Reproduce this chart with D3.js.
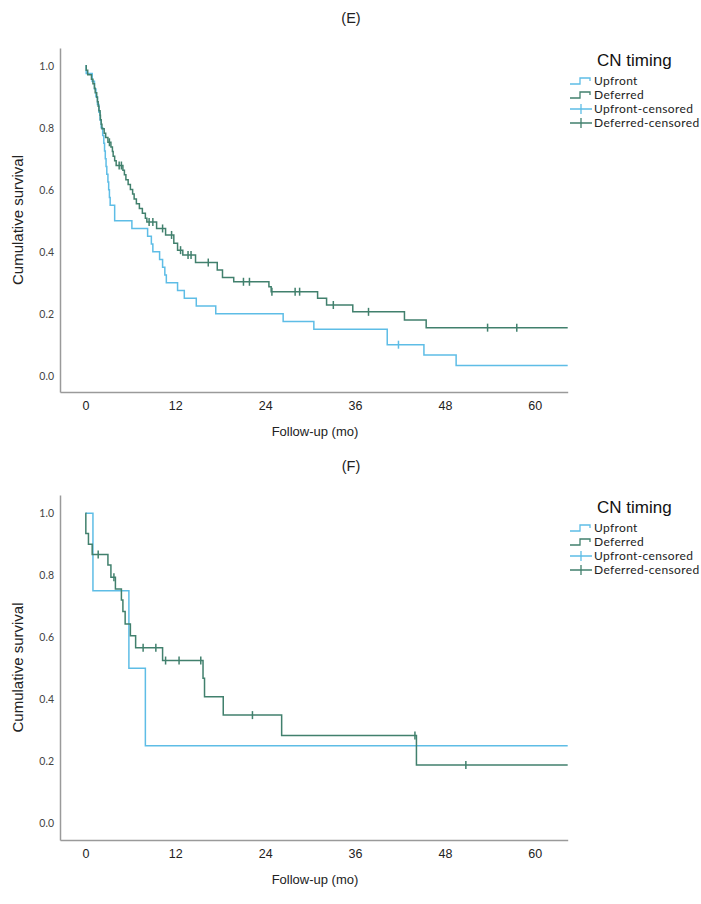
<!DOCTYPE html>
<html><head><meta charset="utf-8">
<script src="https://cdn.jsdelivr.net/npm/d3@7"></script>
<style>body{margin:0;background:#fff}svg{display:block}</style>
</head><body>
<script>
// ---------- data ----------
const xTicks = [0, 12, 24, 36, 48, 60];
const yTicks = [0.0, 0.2, 0.4, 0.6, 0.8, 1.0];
const followUpEnd = 64.4;
const seriesNames = ["Upfront", "Deferred"];
const legendLabels = ["Upfront", "Deferred", "Upfront-censored", "Deferred-censored"];

// Panel E
const eUpfrontSteps = [[0,1],[0.1,0.975],[0.9,0.95],[1.2,0.925],[1.4,0.9],[1.6,0.875],[1.8,0.85],[1.95,0.825],[2.1,0.8],[2.3,0.775],[2.45,0.75],[2.55,0.725],[2.65,0.7],[2.75,0.675],[2.85,0.65],[3.0,0.625],[3.1,0.6],[3.2,0.575],[3.3,0.55],[3.9,0.5],[6.2,0.475],[8.3,0.45],[8.8,0.425],[9.0,0.4],[9.9,0.375],[10.3,0.35],[10.6,0.325],[10.8,0.3],[12.3,0.275],[13.2,0.25],[14.8,0.225],[17.4,0.2],[26.4,0.175],[30.5,0.15],[40.3,0.1],[45.2,0.0667],[49.5,0.0333]];
const eUpfrontCensor = [[41.8,0.1]];
const eDeferredSteps = [[0,1],[0.1,0.985],[0.3,0.971],[0.8,0.956],[1.0,0.942],[1.2,0.927],[1.3,0.913],[1.5,0.898],[1.6,0.884],[1.7,0.869],[1.8,0.855],[1.95,0.84],[2.0,0.826],[2.1,0.811],[2.2,0.797],[2.5,0.782],[2.7,0.768],[3.0,0.753],[3.4,0.738],[3.6,0.723],[3.7,0.708],[3.9,0.693],[4.1,0.678],[5.0,0.663],[5.2,0.648],[5.4,0.632],[5.7,0.617],[6.0,0.601],[6.3,0.586],[6.5,0.57],[6.8,0.555],[7.2,0.539],[7.6,0.524],[8.0,0.508],[8.2,0.496],[9.5,0.475],[10.7,0.454],[11.8,0.427],[12.3,0.405],[13.0,0.389],[14.7,0.365],[17.6,0.341],[18.3,0.317],[19.8,0.303],[24.5,0.287],[24.8,0.271],[31.0,0.25],[32.2,0.228],[35.7,0.206],[42.6,0.18],[45.5,0.155]];
const eDeferredCensor = [[3.2,0.753],[4.5,0.678],[4.8,0.678],[8.5,0.496],[9.0,0.496],[10.3,0.475],[11.5,0.454],[12.7,0.405],[13.7,0.389],[14.1,0.389],[16.4,0.365],[21.1,0.303],[21.9,0.303],[24.9,0.271],[28.0,0.271],[28.6,0.271],[33.1,0.228],[37.8,0.206],[53.7,0.155],[57.6,0.155]];

// Panel F
const fUpfrontSteps = [[0,1],[1.0,0.75],[5.8,0.5],[8.0,0.25]];
const fUpfrontCensor = [];
const fDeferredSteps = [[0,1],[0.05,0.935],[0.4,0.9],[0.9,0.867],[3.0,0.833],[3.4,0.794],[4.0,0.756],[4.8,0.72],[5.0,0.683],[5.3,0.643],[6.0,0.605],[6.7,0.566],[10.3,0.525],[15.7,0.468],[15.9,0.408],[18.4,0.349],[26.2,0.283],[44.2,0.188]];
const fDeferredCensor = [[1.7,0.867],[3.8,0.794],[7.7,0.566],[9.4,0.566],[10.7,0.525],[12.5,0.525],[15.4,0.525],[22.3,0.349],[44.0,0.283],[50.8,0.188]];

const colors = ["#5ebde6", "#41806d"];

// ---------- drawing ----------
const W = 701, H = 904;
const svg = d3.select("body").append("svg").attr("width", W).attr("height", H);

const panels = [
  {title: "(E)", titleY: 23, yTop: 48, yBottom: 392, y0: 375.7, y1: 65.7, labelY: 436, legY: 66,
   series: [[eUpfrontSteps, eUpfrontCensor], [eDeferredSteps, eDeferredCensor]]},
  {title: "(F)", titleY: 471, yTop: 495, yBottom: 840, y0: 823.3, y1: 513.3, labelY: 884, legY: 513,
   series: [[fUpfrontSteps, fUpfrontCensor], [fDeferredSteps, fDeferredCensor]]}
];

const xLeft = 60, xRight = 567.7;
const xMin = -3.4;

panels.forEach(p => {
  const g = svg.append("g");
  const x = d3.scaleLinear().domain([xMin, followUpEnd]).range([xLeft, xRight]);
  const per = (p.y0 - p.y1);
  const y = d3.scaleLinear()
    .domain([(p.y0 - p.yBottom) / per, (p.y0 - p.yTop) / per])
    .range([p.yBottom, p.yTop]);

  // title
  g.append("text").attr("x", 351).attr("y", p.titleY).attr("text-anchor", "middle")
    .style("font-family", "Liberation Sans, Arial, sans-serif").style("font-size", "14.5px").style("fill", "#222")
    .text(p.title);

  // axes
  const yAx = g.append("g").attr("transform", `translate(${xLeft},0)`)
    .call(d3.axisLeft(y).tickValues(yTicks).tickFormat(d3.format(".1f")).tickSize(0).tickPadding(6));
  yAx.select(".domain").attr("stroke", "#9a9a9a").attr("stroke-width", 1.5);
  yAx.selectAll("text").style("font-family", "Lato, sans-serif").style("font-size", "10.5px").style("fill", "#444");

  const xAx = g.append("g").attr("transform", `translate(0,${p.yBottom})`)
    .call(d3.axisBottom(x).tickValues(xTicks).tickSize(0).tickPadding(9));
  xAx.select(".domain").attr("stroke", "#9a9a9a").attr("stroke-width", 1.5);
  xAx.selectAll("text").style("font-family", "Liberation Sans, Arial, sans-serif").style("font-size", "12.5px").style("fill", "#222");

  // axis labels
  g.append("text").attr("x", 315).attr("y", p.labelY).attr("text-anchor", "middle")
    .style("font-family", "Liberation Sans, Arial, sans-serif").style("font-size", "13px").style("fill", "#222")
    .text("Follow-up (mo)");
  g.append("text").attr("transform", `translate(23,${(p.yTop + p.yBottom) / 2}) rotate(-90)`).attr("text-anchor", "middle")
    .style("font-family", "Liberation Sans, Arial, sans-serif").style("font-size", "15px").style("fill", "#222")
    .text("Cumulative survival");

  // curves
  const line = d3.line().x(d => x(d[0])).y(d => y(d[1])).curve(d3.curveStepAfter);
  p.series.forEach((s, i) => {
    const steps = s[0];
    const pts = steps.concat([[followUpEnd, steps[steps.length - 1][1]]]);
    g.append("path").attr("d", line(pts)).attr("fill", "none")
      .attr("stroke", colors[i]).attr("stroke-width", 1.5);
    g.selectAll(null).data(s[1]).enter().append("line")
      .attr("x1", d => x(d[0])).attr("x2", d => x(d[0]))
      .attr("y1", d => y(d[1]) - 4).attr("y2", d => y(d[1]) + 4)
      .attr("stroke", colors[i]).attr("stroke-width", 1.5);
  });

  // legend
  const lg = g.append("g");
  lg.append("text").attr("x", 597).attr("y", p.legY)
    .style("font-family", "Liberation Sans, Arial, sans-serif").style("font-size", "17px").style("fill", "#111")
    .text("CN timing");
  legendLabels.forEach((lab, i) => {
    const cy = p.legY + 15 + i * 14;
    const c = colors[i % 2];
    if (i < 2) {
      lg.append("path").attr("d", `M570,${cy + 3}H580V${cy - 3}H590V${cy}`)
        .attr("fill", "none").attr("stroke", c).attr("stroke-width", 1.3);
    } else {
      lg.append("path").attr("d", `M570,${cy}H592M581,${cy - 5}V${cy + 5}`)
        .attr("fill", "none").attr("stroke", c).attr("stroke-width", 1.3);
    }
    lg.append("text").attr("x", 594).attr("y", cy + 4)
      .style("font-family", "Lato, sans-serif").style("font-size", "12px").style("letter-spacing", "0.35px").style("fill", "#222")
      .text(lab);
  });
});
</script>
</body></html>
